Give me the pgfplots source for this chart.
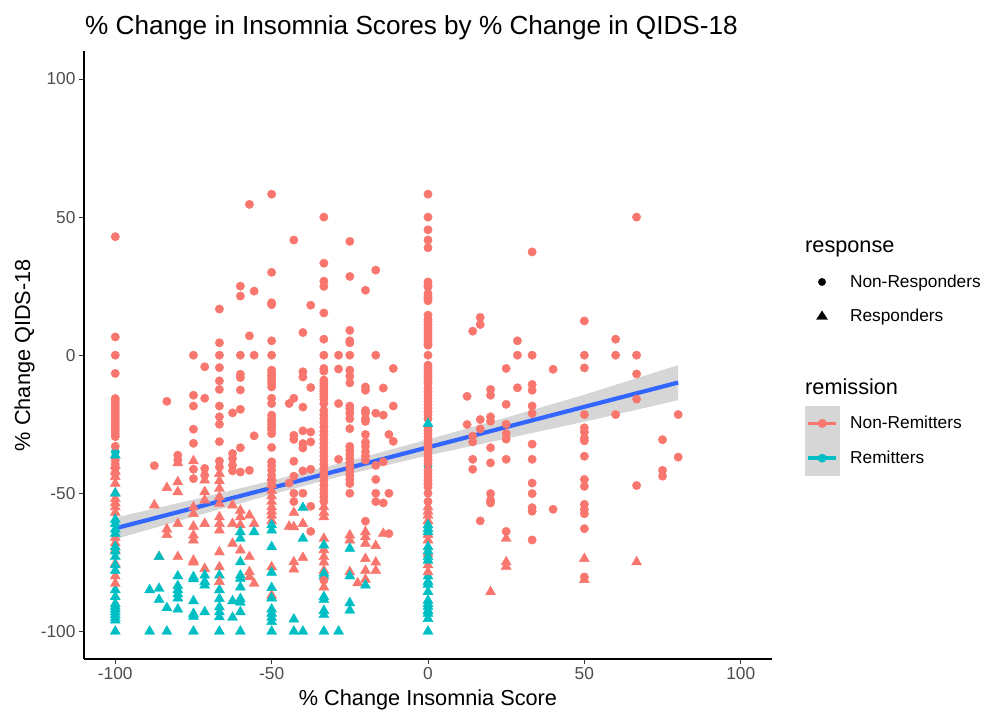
\documentclass[border=0pt]{standalone}
\usepackage{pgfplots}
\pgfplotsset{compat=1.18}
\usepackage{fontspec}
\setmainfont{Liberation Sans}
\definecolor{nr}{HTML}{F8766D}
\definecolor{rm}{HTML}{00BFC4}
\definecolor{fit}{HTML}{3366FF}
\definecolor{tk}{HTML}{4D4D4D}
\definecolor{keybg}{HTML}{D6D6D6}
\newcommand{\fs}[1]{\fontsize{#1}{#1}\selectfont}
\begin{document}
\begin{tikzpicture}
\useasboundingbox (0pt,0pt) rectangle (986pt,711pt);
\begin{axis}[
  at={(84pt,52pt)},anchor=south west,scale only axis,width=688pt,height=607.6pt,
  xmin=-110,xmax=110,ymin=-110,ymax=110,
  axis lines=left,axis line style={-,line width=1.7pt,black},
  xtick={-100,-50,0,50,100},xticklabels={-100,-50,0,50,100},
  ytick={-100,-50,0,50,100},yticklabels={-100,-50,0,50,100},
  tick align=outside,major tick length=5pt,tick style={line width=1pt,color=black!80},
  ticklabel style={font=\fs{17.3},text=tk},
  xlabel={\% Change Insomnia Score},ylabel={\% Change QIDS-18},
  xlabel style={font=\fs{21.7},at={(axis description cs:0.5,-0.0675)},anchor=center},
  ylabel style={font=\fs{21.7},at={(axis description cs:-0.0865,0.5)},anchor=center},
  title={\% Change in Insomnia Scores by \% Change in QIDS-18},
  title style={font=\fs{26.15},at={(axis description cs:0,1)},anchor=base west,yshift=11pt,inner sep=0pt,xshift=1pt},
]
% remitter, non-responder
\addplot[only marks,mark=*,mark size=4.2pt,color=rm,mark options={draw=none,fill=rm}] coordinates {(0,-40.3)(-100,-35)};
% non-remitter, non-responder
\addplot[only marks,mark=*,mark size=4.2pt,color=nr,mark options={draw=none,fill=nr}] coordinates {
(-100,42.9)(-100,6.6)(-100,0)(-100,-6.6)(-100,-15.7)(-100,-16.5)(-100,-17.5)(-100,-18.5)(-100,-19.5)(-100,-20.5)(-100,-21.5)(-100,-22.5)(-100,-23.5)(-100,-24.5)(-100,-25.5)(-100,-26.5)(-100,-27.5)(-100,-28.5)(-100,-29.5)(-100,-33)(-100,-38)(-100,-39.5)(-100,-41)(-100,-43)
(-87.5,-40)(-83.5,-16.7)
(-80,-36.2)(-80,-38)
(-75,0)(-75,-14.5)(-75,-18.4)(-75,-26.8)(-75,-31.9)(-75,-41.3)(-75,-44.7)
(-71.4,-4.2)(-71.4,-15.6)(-71.4,-41)(-71.4,-43.5)
(-66.7,16.7)(-66.7,4.5)(-66.7,0)(-66.7,-4.5)(-66.7,-9.3)(-66.7,-12.4)(-66.7,-18.4)(-66.7,-22.3)(-66.7,-25)(-66.7,-31.3)(-66.7,-38.3)(-66.7,-40.5)
(-62.5,-20.9)(-62.5,-35.6)(-62.5,-37.4)(-62.5,-39.9)(-62.5,-41.9)
(-60,25)(-60,21.4)(-60,0)(-60,-6.9)(-60,-8.1)(-60,-12.6)(-60,-19.6)(-60,-33.5)(-60,-42.3)
(-57.1,54.6)(-57.1,7)(-57.1,-41.7)
(-55.6,23.2)(-55.6,0)(-55.6,-29.2)
(-50,58.3)(-50,30)(-50,19)(-50,18.3)(-50,5.2)(-50,0)(-50,-5.4)(-50,-6.4)(-50,-7.4)(-50,-8.4)(-50,-9.4)(-50,-10.4)(-50,-11.5)(-50,-15.6)(-50,-17.5)(-50,-21.7)(-50,-23)(-50,-24)(-50,-25)(-50,-26)(-50,-27)(-50,-28.4)(-50,-33.4)(-50,-38.6)(-50,-40)(-50,-41.7)(-50,-43.5)(-50,-45)(-50,-46.5)
(-44.4,-17.5)(-44.4,-46.3)
(-42.9,41.7)(-42.9,-15.6)(-42.9,-29)(-42.9,-30.5)(-42.9,-38.4)(-42.9,-43.8)(-42.9,-50)(-42.9,-53)
(-40,8.2)(-40,-6)(-40,-7.9)(-40,-18.8)(-40,-27.4)(-40,-32)(-40,-33.6)(-40,-41.9)(-40,-50)
(-37.5,18.1)(-37.5,-11.7)(-37.5,-27.8)(-37.5,-31.4)(-37.5,-41.3)(-37.5,-54.7)(-37.5,-63.8)
(-33.3,50)(-33.3,33.3)(-33.3,26.8)(-33.3,24.9)(-33.3,15.3)(-33.3,5.8)(-33.3,0)(-33.3,-4.8)(-33.3,-5.8)(-33.3,-9)(-33.3,-10)(-33.3,-11)(-33.3,-12)(-33.3,-13)(-33.3,-14)(-33.3,-15)(-33.3,-16)(-33.3,-17.5)(-33.3,-20)(-33.3,-21.5)(-33.3,-23)(-33.3,-24.5)(-33.3,-26)(-33.3,-27.5)(-33.3,-29)(-33.3,-30.5)(-33.3,-32)(-33.3,-33.5)(-33.3,-35)(-33.3,-36.5)(-33.3,-38)(-33.3,-39.5)(-33.3,-41)(-33.3,-42.5)(-33.3,-44)(-33.3,-45.5)(-33.3,-47)(-33.3,-48.5)(-33.3,-50)(-33.3,-51.5)(-33.3,-53)
(-28.6,0)(-28.6,-5)(-28.6,-17.5)(-28.6,-37.7)
(-25,41.2)(-25,28.5)(-25,9)(-25,5.2)(-25,4.5)(-25,0)(-25,-5.4)(-25,-7.6)(-25,-10)(-25,-18.4)(-25,-19.5)(-25,-21)(-25,-23)(-25,-26.6)(-25,-33)(-25,-34.5)(-25,-36)(-25,-37.5)(-25,-39)(-25,-40.5)(-25,-42)(-25,-43.5)(-25,-45)(-25,-46.5)(-25,-50)
(-20,23.5)(-20,-11.5)(-20,-12.7)(-20,-20)(-20,-21)(-20,-23)(-20,-24)(-20,-28.7)(-20,-31.5)(-20,-33)(-20,-35)(-20,-36.5)(-20,-38)(-20,-60.1)
(-16.7,30.8)(-16.7,0)(-16.7,-21)(-16.7,-39.9)(-16.7,-45)(-16.7,-50)(-16.7,-53)
(-14.3,-11.9)(-14.3,-21.7)(-14.3,-38.6)(-14.3,-53.5)
(-12.5,-28.7)(-12.5,-50)(-12.5,-64.6)
(-11.1,-4.8)(-11.1,-18.4)(-11.1,-31.2)
(0,58.3)(0,50)(0,45.4)(0,41.7)(0,38.9)(0,26.5)(0,25.5)(0,24.8)(0,22.3)(0,21.3)(0,20.5)(0,19.7)(0,14.5)(0,13)(0,12)(0,11)(0,10)(0,9)(0,8)(0,7)(0,6)(0,5)(0,4)(0,3.6)(0,0)(0,-3.6)(0,-4.6)(0,-5.6)(0,-6.6)(0,-7.6)(0,-8.6)(0,-9.6)(0,-10.3)(0,-12)(0,-13.2)(0,-14.4)(0,-15.6)(0,-16.8)(0,-18)(0,-19.2)(0,-20.4)(0,-21.6)(0,-23)(0,-26)(0,-27.2)(0,-28.4)(0,-29.6)(0,-30.8)(0,-32)(0,-33.2)(0,-34.4)(0,-35.6)(0,-36.8)(0,-38)(0,-39.3)(0,-41.7)(0,-42.9)(0,-44.1)(0,-45.3)(0,-46.5)(0,-47.7)(0,-50)(0,-53)
(12.5,-14.9)(12.5,-25.1)
(14.3,8.7)(14.3,-29.3)(14.3,-31.4)(14.3,-37.7)(14.3,-41.3)
(16.7,13.7)(16.7,11.1)(16.7,-23.3)(16.7,-26.7)(16.7,-60)
(20,-12.4)(20,-14.5)(20,-22.3)(20,-23.9)(20,-33.5)(20,-39)(20,-50.1)(20,-52.5)(20,-53.5)
(25,-4.8)(25,-17.8)(25,-25)(25,-28.4)(25,-30.4)(25,-37.7)(25,-63.8)
(28.6,5.2)(28.6,0)(28.6,-11.8)
(33.3,37.4)(33.3,0)(33.3,-10.6)(33.3,-12.7)(33.3,-18.4)(33.3,-21.1)(33.3,-32.2)(33.3,-37.7)(33.3,-46.3)(33.3,-50.1)(33.3,-55.2)(33.3,-56.5)(33.3,-66.9)
(40,-5.1)(40,-55.8)
(50,12.4)(50,0)(50,-4.6)(50,-21.5)(50,-26.3)(50,-27.8)(50,-30)(50,-31)(50,-36.6)(50,-45)(50,-47.5)(50,-54)(50,-55.9)(50,-57.4)(50,-62.8)
(60,5.8)(60,0)(60,-21.5)
(66.7,50)(66.7,0)(66.7,-6.8)(66.7,-15.9)(66.7,-47.2)
(75,-30.6)(75,-41.7)(75,-43.8)
(80,-21.5)(80,-36.9)
};
% non-remitter, responder
\addplot[only marks,mark=triangle*,mark size=5.8pt,color=nr,mark options={draw=none,fill=nr}] coordinates {
(-100,-40)(-100,-42)(-100,-44)(-100,-46.5)(-100,-50)(-100,-52)(-100,-53.5)(-100,-55)(-100,-57)(-100,-66)(-100,-68)(-100,-70.5)(-100,-75.5)(-100,-80)
(-87.5,-54.3)(-86,-73)(-83.5,-48)(-83.5,-63)(-83.5,-65)
(-80,-39)(-80,-45.9)(-80,-49.5)(-80,-61)(-80,-73)
(-75,-38.3)(-75,-55)(-75,-57.4)(-75,-62)(-75,-65.2)(-75,-67)(-75,-74.3)(-75,-75)
(-71.4,-45.3)(-71.4,-49.5)(-71.4,-52.5)(-71.4,-61)(-71.4,-77.3)
(-66.7,-42.9)(-66.7,-45.5)(-66.7,-48.3)(-66.7,-51.3)(-66.7,-53.7)(-66.7,-58.6)(-66.7,-61)(-66.7,-63.4)(-66.7,-71.3)(-66.7,-76.7)
(-62.5,-54.3)(-62.5,-61)(-62.5,-68.2)
(-60,-56.2)(-60,-58.6)(-60,-61.5)(-60,-70.6)
(-57.1,-58)(-57.1,-73)(-57.1,-78.5)(-57.1,-80.3)(-55.6,-61)(-55.6,-82.7)
(-50,-44.5)(-50,-47)(-50,-49)(-50,-51)(-50,-53)(-50,-55)(-50,-56.5)(-50,-58)(-50,-60)(-50,-76.7)(-50,-87)
(-42.9,-57)(-42.9,-62.2)(-42.9,-74.9)(-42.9,-77.5)
(-44.4,-62)(-40,-61)(-40,-73.3)
(-33.3,-55)(-33.3,-57)(-33.3,-58.6)(-33.3,-66.4)(-33.3,-70.5)(-33.3,-73)(-33.3,-75)(-33.3,-78)(-33.3,-84)
(-25,-65.2)(-25,-67)(-25,-78.5)
(-20,-64)(-20,-65.8)(-20,-68.2)(-20,-73.7)(-20,-78)(-20,-81.2)(-22.5,-82.5)
(-16.7,-69)(-16.7,-75)(-16.7,-78)(-14.3,-64.6)
(0,-55)(0,-56.5)(0,-58)(0,-60)(0,-65)(0,-67)(0,-71)(0,-72)(0,-76)
(20,-85.7)(25,-66.4)(25,-74.9)(25,-76.5)(50,-73.7)(50,-81.3)(66.7,-74.9)
};
% remitter, responder
\addplot[only marks,mark=triangle*,mark size=5.8pt,color=rm,mark options={draw=none,fill=rm}] coordinates {
(-100,-36.2)(-100,-50)(-100,-59.5)(-100,-61)(-100,-63)(-100,-64.6)(-100,-69.4)(-100,-71)(-100,-73)(-100,-76)(-100,-78)(-100,-85)(-100,-87.5)(-100,-90)(-100,-91)(-100,-92)(-100,-93)(-100,-94)(-100,-95)(-100,-96)(-100,-100)
(-89,-85)(-89,-100)(-86,-84.5)(-86,-73)(-86,-88.5)(-83.5,-91.5)(-83.5,-100)
(-80,-80)(-80,-83.5)(-80,-85)(-80,-86.5)(-80,-88)(-80,-92)
(-75,-80.3)(-75,-81)(-75,-89)(-75,-93.6)(-75,-94.6)(-75,-100)
(-71.4,-79.7)(-71.4,-82)(-71.4,-83.3)(-71.4,-93)
(-66.7,-79.7)(-66.7,-85)(-66.7,-88.2)(-66.7,-91.2)(-66.7,-93)(-66.7,-94.8)(-66.7,-100)
(-62.5,-89)(-62.5,-95)
(-60,-64)(-60,-66.4)(-60,-74.9)(-60,-79.7)(-60,-80.9)(-60,-84)(-60,-88.2)(-60,-89.5)(-60,-93)(-60,-100)
(-55.6,-64)
(-50,-61.5)(-50,-63.4)(-50,-69.4)(-50,-78.7)(-50,-84.2)(-50,-88)(-50,-92)(-50,-93.5)(-50,-95)(-50,-96.5)(-50,-100)
(-42.9,-95.6)(-42.9,-100)
(-40,-55.2)(-40,-66.4)(-40,-100)
(-33.3,-68.8)(-33.3,-79)(-33.3,-80)(-33.3,-87.5)(-33.3,-88.5)(-33.3,-92.5)(-33.3,-94)(-33.3,-100)
(-28.6,-100)
(-25,-70)(-25,-80)(-25,-89.7)(-25,-92.4)
(-20,-83.3)
(0,-24.8)(0,-61.5)(0,-62.8)(0,-64)(0,-69.4)(0,-71)(0,-73)(0,-74.3)(0,-80)(0,-82)(0,-83)(0,-85.7)(0,-88.8)(0,-90)(0,-91)(0,-92.5)(0,-93.5)(0,-95.4)(0,-100)
};
% non-remitters drawn over the others
\addplot[only marks,mark=*,mark size=4.2pt,color=nr,mark options={draw=none,fill=nr}] coordinates {(-33.3,-81.5)(50,-80.3)};
\addplot[only marks,mark=triangle*,mark size=5.8pt,color=nr,mark options={draw=none,fill=nr}] coordinates {(-100,-82.7)(-66.7,-82)(0,-78.5)};
% confidence band
\addplot[fill=black!40,fill opacity=0.4,draw=none] coordinates {
(-100,-58.8)(-75,-52.3)(-50,-45.4)(-25,-38.2)(0,-30.5)(25,-22.6)(50,-14.3)(80,-3.6)
(80,-16.3)(50,-24.1)(25,-30.2)(0,-36.3)(-25,-43)(-50,-50.4)(-75,-58.5)(-100,-66.6)
} -- cycle;
% fit
\addplot[fit,line width=4.2pt] coordinates {(-100,-62.7)(80,-9.9)};
\end{axis}
\begin{axis}[
  at={(0pt,0pt)},anchor=south west,scale only axis,width=986pt,height=711pt,hide axis,
  xmin=0,xmax=986,ymin=0,ymax=711,clip=false,
  legend cell align=left,
  legend style={at={(axis cs:805,446)},anchor=north west,draw=none,fill=none,inner sep=0pt,outer sep=0pt,font=\fs{17.3},
    column sep=0pt,row sep=0pt,nodes={inner sep=0pt,outer sep=0pt}},
]
\addlegendimage{legend image code/.code={\path[draw=none] (0pt,-17pt) rectangle (45pt,17pt);\fill[black] (17pt,0pt) circle (3.7pt);}}
\addlegendentry{Non-Responders}
\addlegendimage{legend image code/.code={\path[draw=none] (0pt,-17pt) rectangle (45pt,17pt);\fill[black] (11.5pt,-3.5pt)--(22.5pt,-3.5pt)--(17pt,5pt)--cycle;}}
\addlegendentry{Responders}
\node[anchor=base west,inner sep=0pt,font=\fs{21.7}] at (axis cs:805,458) {response};
\end{axis}
\begin{axis}[
  at={(0pt,0pt)},anchor=south west,scale only axis,width=986pt,height=711pt,hide axis,
  xmin=0,xmax=986,ymin=0,ymax=711,clip=false,
  legend cell align=left,
  legend style={at={(axis cs:805,305)},anchor=north west,draw=none,fill=none,inner sep=0pt,outer sep=0pt,font=\fs{17.3},
    column sep=0pt,row sep=0pt,nodes={inner sep=0pt,outer sep=0pt}},
]
\addlegendimage{legend image code/.code={\path[draw=none] (0pt,-17.2pt) rectangle (45pt,17.2pt);\fill[keybg] (0pt,-17.2pt) rectangle (34pt,17.2pt);\draw[nr,line width=3.6pt] (3pt,0pt)--(31pt,0pt);\fill[nr] (17pt,0pt) circle (4.2pt);}}
\addlegendentry{Non-Remitters}
\addlegendimage{legend image code/.code={\path[draw=none] (0pt,-17.2pt) rectangle (45pt,17.2pt);\fill[keybg] (0pt,-17.2pt) rectangle (34pt,17.2pt);\draw[rm,line width=3.6pt] (3pt,0pt)--(31pt,0pt);\fill[rm] (17pt,0pt) circle (4.2pt);}}
\addlegendentry{Remitters}
\node[anchor=base west,inner sep=0pt,font=\fs{21.7}] at (axis cs:805,316) {remission};
\end{axis}
\end{tikzpicture}
\end{document}
